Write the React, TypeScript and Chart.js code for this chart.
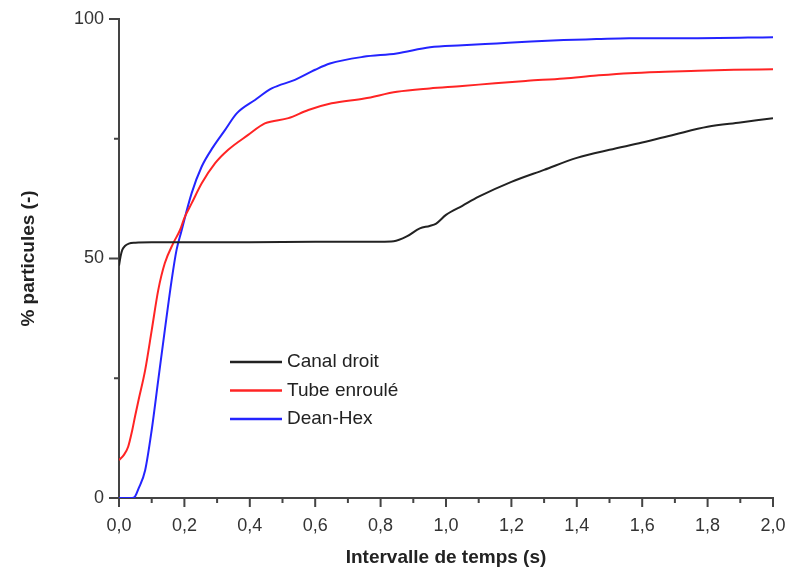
import React, { useEffect, useRef } from "react";
import { Chart, registerables } from "chart.js";

Chart.register(...registerables);

const seriesNames = ["Canal droit", "Tube enroulé", "Dean-Hex"];
const seriesColors = ["#222222", "#ff2424", "#2424ff"];

const canalX = [0, 0.005, 0.01, 0.018, 0.03, 0.05, 0.1, 0.2, 0.4, 0.6, 0.8, 0.84, 0.88, 0.92, 0.95, 0.97, 1.0, 1.05, 1.1, 1.2, 1.3, 1.4, 1.5, 1.6, 1.7, 1.8, 1.9, 2.0];
const canalY = [48.5, 50.5, 51.8, 52.6, 53.1, 53.3, 53.4, 53.4, 53.4, 53.5, 53.5, 53.6, 54.6, 56.3, 56.8, 57.3, 59.1, 61.0, 62.9, 66.0, 68.5, 71.0, 72.7, 74.2, 75.9, 77.5, 78.4, 79.3];

const tubeX = [0, 0.015, 0.028, 0.04, 0.049, 0.06, 0.08, 0.1, 0.12, 0.14, 0.166, 0.187, 0.2, 0.222, 0.253, 0.294, 0.334, 0.395, 0.446, 0.518, 0.579, 0.65, 0.75, 0.85, 0.95, 1.05, 1.15, 1.25, 1.36, 1.46, 1.56, 1.67, 1.77, 1.88, 2.0];
const tubeY = [7.9, 9.0, 10.7, 14.0, 17.0, 20.5, 26.7, 35.0, 43.4, 49.0, 53.2, 56.0, 58.5, 61.5, 65.7, 69.9, 72.7, 75.8, 78.2, 79.3, 81.0, 82.4, 83.4, 84.8, 85.5, 86.0, 86.6, 87.1, 87.6, 88.2, 88.7, 89.0, 89.2, 89.4, 89.5];

const deanX = [0, 0.04, 0.049, 0.06, 0.08, 0.1, 0.12, 0.14, 0.161, 0.176, 0.19, 0.222, 0.253, 0.288, 0.324, 0.36, 0.416, 0.467, 0.538, 0.6, 0.645, 0.747, 0.849, 0.951, 1.05, 1.155, 1.26, 1.36, 1.46, 1.56, 1.77, 2.0];
const deanY = [0, 0, 0.3, 2.0, 5.8, 14.2, 24.6, 35.0, 45.5, 51.8, 55.5, 63.6, 69.2, 73.3, 76.8, 80.3, 83.1, 85.5, 87.3, 89.4, 90.7, 92.1, 92.8, 94.1, 94.5, 94.9, 95.3, 95.6, 95.8, 96.0, 96.0, 96.2];

const xMajorTicks = [0, 0.2, 0.4, 0.6, 0.8, 1.0, 1.2, 1.4, 1.6, 1.8, 2.0];
const xMinorTicks = [0.1, 0.3, 0.5, 0.7, 0.9, 1.1, 1.3, 1.5, 1.7, 1.9];
const yMajorTicks = [0, 50, 100];
const yMinorTicks = [25, 75];

const xTitle = "Intervalle de temps (s)";
const yTitle = "% particules (-)";

const FONT = "'Liberation Sans', Arial, sans-serif";
const AXIS_COLOR = "#444444";

const zip = (xs: number[], ys: number[]) => xs.map((x, i) => ({ x, y: ys[i] }));

const ticksAndLegend = {
  id: "ticksAndLegend",
  afterDraw(chart: any) {
    const ctx = chart.ctx;
    const xs = chart.scales.x;
    const ys = chart.scales.y;
    const { left, bottom } = chart.chartArea;
    ctx.save();
    ctx.strokeStyle = AXIS_COLOR;
    ctx.lineWidth = 2;
    ctx.beginPath();
    xMajorTicks.forEach((v) => {
      const p = xs.getPixelForValue(v);
      ctx.moveTo(p, bottom);
      ctx.lineTo(p, bottom + 9);
    });
    xMinorTicks.forEach((v) => {
      const p = xs.getPixelForValue(v);
      ctx.moveTo(p, bottom);
      ctx.lineTo(p, bottom + 5);
    });
    yMajorTicks.forEach((v) => {
      const p = ys.getPixelForValue(v);
      ctx.moveTo(left, p);
      ctx.lineTo(left - 10, p);
    });
    yMinorTicks.forEach((v) => {
      const p = ys.getPixelForValue(v);
      ctx.moveTo(left, p);
      ctx.lineTo(left - 5, p);
    });
    ctx.stroke();

    // legend
    const lx = left + 111;
    const ly = 362;
    const gap = 28.5;
    ctx.font = `19px ${FONT}`;
    ctx.textBaseline = "middle";
    ctx.textAlign = "left";
    chart.data.datasets.forEach((ds: any, i: number) => {
      const y = ly + i * gap;
      ctx.strokeStyle = ds.borderColor;
      ctx.lineWidth = 2.5;
      ctx.beginPath();
      ctx.moveTo(lx, y);
      ctx.lineTo(lx + 52, y);
      ctx.stroke();
      ctx.fillStyle = "#222222";
      ctx.fillText(ds.label, lx + 57, y);
    });
    ctx.restore();
  },
};

export default function App() {
  const ref = useRef<HTMLCanvasElement>(null);
  useEffect(() => {
    document.body.style.margin = "0";
    const chart = new Chart(ref.current as HTMLCanvasElement, {
      type: "line",
      data: {
        datasets: [
          { label: seriesNames[0], data: zip(canalX, canalY), borderColor: seriesColors[0] },
          { label: seriesNames[1], data: zip(tubeX, tubeY), borderColor: seriesColors[1] },
          { label: seriesNames[2], data: zip(deanX, deanY), borderColor: seriesColors[2] },
        ].map((d) => ({
          ...d,
          borderWidth: 2,
          pointRadius: 0,
          fill: false,
          cubicInterpolationMode: "monotone" as const,
        })),
      },
      options: {
        animation: false,
        responsive: false,
        layout: { padding: { left: 0, top: 19, right: 15, bottom: 0 } },
        plugins: { legend: { display: false }, tooltip: { enabled: false } },
        scales: {
          x: {
            type: "linear",
            min: 0,
            max: 2,
            grid: { display: false, drawTicks: false },
            border: { display: true, color: AXIS_COLOR, width: 2 },
            ticks: {
              stepSize: 0.2,
              padding: 17,
              color: "#333333",
              font: { size: 18, family: FONT },
              maxRotation: 0,
              autoSkip: false,
              callback: (v: any) => Number(v).toFixed(1).replace(".", ","),
            },
            title: {
              display: true,
              text: xTitle,
              color: "#222222",
              font: { size: 19, weight: "bold", family: FONT },
              padding: { top: 0, bottom: 7 },
            },
            afterFit: (s: any) => {
              s.height = 78;
              s.paddingLeft = 0;
              s.paddingRight = 0;
            },
          },
          y: {
            type: "linear",
            min: 0,
            max: 100,
            grid: { display: false, drawTicks: false },
            border: { display: true, color: AXIS_COLOR, width: 2 },
            ticks: {
              stepSize: 50,
              padding: 15,
              color: "#333333",
              font: { size: 18, family: FONT },
            },
            title: {
              display: true,
              text: yTitle,
              color: "#222222",
              font: { size: 19, weight: "bold", family: FONT },
              padding: { top: 17, bottom: 0 },
            },
            afterFit: (s: any) => {
              s.width = 119;
              s.paddingTop = 0;
              s.paddingBottom = 0;
            },
          },
        },
      },
      plugins: [ticksAndLegend],
    });
    return () => chart.destroy();
  }, []);
  return (
    <div style={{ position: "fixed", left: 0, top: 0, width: 788, height: 576, background: "#fff" }}>
      <canvas ref={ref} width={788} height={576} style={{ width: 788, height: 576 }} />
    </div>
  );
}
